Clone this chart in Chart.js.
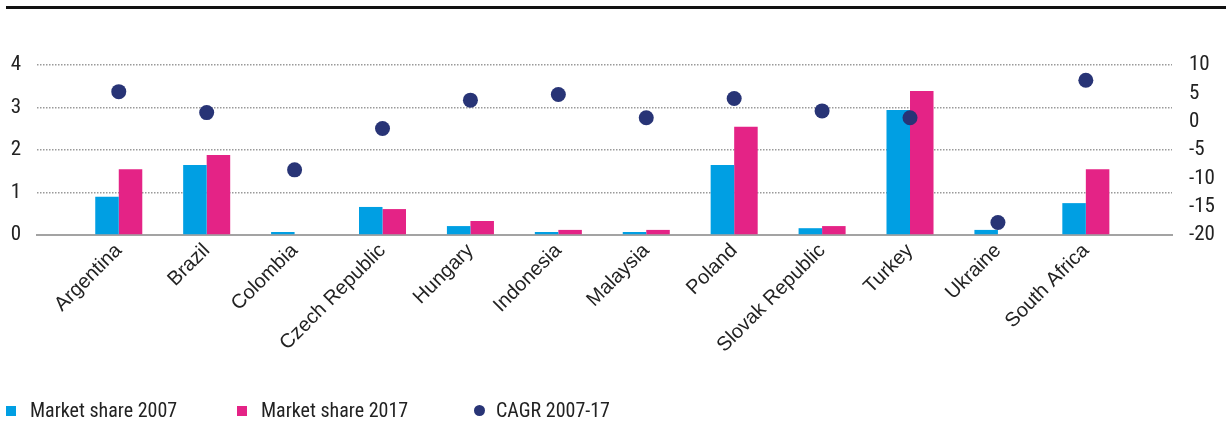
<!DOCTYPE html>
<html>
<head>
    <title>Market share and CAGR 2007-17</title>
    <script src="https://cdn.jsdelivr.net/npm/chart.js"></script>
    <style>
        body { margin: 0; background: #ffffff; }
        #wrap { position: relative; width: 1226px; height: 423px; }
        #topRule { position: absolute; left: 6px; right: 0; top: 6px; height: 3px; background: #111; }
        #chartBox { position: absolute; left: 0; top: 0; width: 1226px; height: 423px; }
        #legend { position: absolute; left: 0; top: 398px; width: 1226px; height: 25px;
                  font-family: 'Liberation Sans Narrow', 'Roboto Condensed', 'DejaVu Sans Condensed', sans-serif;
                  font-size: 20px; color: #222; }
        .item { position: absolute; top: 0; white-space: nowrap; line-height: 24px; }
        .swatch { position: absolute; top: 8px; width: 10px; height: 10px; }
        .dot { position: absolute; top: 7px; width: 11px; height: 11px; border-radius: 50%; }
        .label { position: absolute; top: 0; }
    </style>
</head>
<body>
<div id="wrap">
    <div id="topRule"></div>
    <div id="chartBox"><canvas id="myChart"></canvas></div>
    <div id="legend"></div>
</div>

<script>
    // Countries along the x axis
    var countries = ['Argentina', 'Brazil', 'Colombia', 'Czech Republic', 'Hungary', 'Indonesia',
                     'Malaysia', 'Poland', 'Slovak Republic', 'Turkey', 'Ukraine', 'South Africa'];

    // Market share, % (left axis)
    var share2007 = [0.9, 1.65, 0.07, 0.66, 0.21, 0.07, 0.07, 1.65, 0.16, 2.94, 0.12, 0.75];
    var share2017 = [1.55, 1.88, 0, 0.61, 0.33, 0.12, 0.12, 2.55, 0.21, 3.39, 0, 1.55];

    // Compound annual growth 2007-17, % (right axis)
    var cagr = [5.3, 1.6, -8.5, -1.2, 3.8, 4.8, 0.7, 4.1, 1.9, 0.7, -17.8, 7.3];

    var seriesNames = ['Market share 2007', 'Market share 2017', 'CAGR 2007-17'];
    var seriesColors = ['#009fe3', '#e42386', '#283476'];

    var condensed = "'Liberation Sans Narrow', 'Roboto Condensed', 'DejaVu Sans Condensed', sans-serif";

    function points(values) {
        return values.map(function (v, i) { return { x: i, y: v }; });
    }

    var ctx = document.getElementById('myChart').getContext('2d');

    var myChart = new Chart(ctx, {
        data: {
            datasets: [
                {
                    type: 'line',
                    label: seriesNames[2],
                    data: points(cagr),
                    yAxisID: 'y1',
                    showLine: false,
                    pointRadius: 7.5,
                    pointBackgroundColor: seriesColors[2],
                    pointBorderWidth: 0,
                    order: 0
                },
                {
                    type: 'bar',
                    label: seriesNames[0],
                    data: points(share2007),
                    yAxisID: 'y',
                    backgroundColor: seriesColors[0],
                    borderWidth: 0,
                    categoryPercentage: 0.535,
                    barPercentage: 1,
                    order: 1
                },
                {
                    type: 'bar',
                    label: seriesNames[1],
                    data: points(share2017),
                    yAxisID: 'y',
                    backgroundColor: seriesColors[1],
                    borderWidth: 0,
                    categoryPercentage: 0.535,
                    barPercentage: 1,
                    order: 1
                }
            ]
        },
        options: {
            responsive: true,
            maintainAspectRatio: false,
            animation: false,
            layout: { padding: { top: 65, left: 0, right: 0, bottom: 0 } },
            plugins: {
                legend: { display: false },
                tooltip: { enabled: false }
            },
            scales: {
                x: {
                    type: 'linear',
                    offset: false,
                    min: -0.93,
                    max: 11.98,
                    afterBuildTicks: function (scale) {
                        scale.ticks = countries.map(function (c, i) { return { value: i }; });
                    },
                    afterFit: function (scale) { scale.height = 188; },
                    grid: { display: false, drawTicks: false, offset: false },
                    border: { display: true, color: '#a3a3a3', width: 2 },
                    ticks: {
                        autoSkip: false,
                        minRotation: 45,
                        maxRotation: 45,
                        padding: 4,
                        color: '#222',
                        font: { family: "'Liberation Sans', Arial, sans-serif", size: 20 },
                        callback: function (value) { return countries[value]; }
                    }
                },
                y: {
                    position: 'left',
                    min: 0,
                    max: 4,
                    afterFit: function (scale) { scale.width = 37; },
                    grid: {
                        drawTicks: false,
                        lineWidth: 1.5,
                        color: function (c) { return c.tick.value === 0 ? 'rgba(0,0,0,0)' : '#9a9a9a'; }
                    },
                    border: { display: false, dash: [1.5, 1.5] },
                    ticks: {
                        stepSize: 1,
                        padding: 16,
                        color: '#222',
                        font: { family: condensed, size: 21 }
                    }
                },
                y1: {
                    position: 'right',
                    min: -20,
                    max: 10,
                    afterFit: function (scale) { scale.width = 54; },
                    grid: { drawOnChartArea: false, drawTicks: false },
                    border: { display: false },
                    ticks: {
                        stepSize: 5,
                        padding: 17,
                        color: '#222',
                        font: { family: condensed, size: 21 }
                    }
                }
            }
        }
    });

    // Legend row under the chart
    var legendX = [6, 237, 474];
    var legendEl = document.getElementById('legend');
    seriesNames.forEach(function (name, i) {
        var item = document.createElement('div');
        item.className = 'item';
        item.style.left = legendX[i] + 'px';
        var mark = document.createElement('div');
        mark.className = i === 2 ? 'dot' : 'swatch';
        mark.style.left = '0px';
        mark.style.background = seriesColors[i];
        var text = document.createElement('span');
        text.className = 'label';
        text.style.left = (i === 2 ? 22 : 24) + 'px';
        text.textContent = name;
        item.appendChild(mark);
        item.appendChild(text);
        legendEl.appendChild(item);
    });
</script>
</body>
</html>
